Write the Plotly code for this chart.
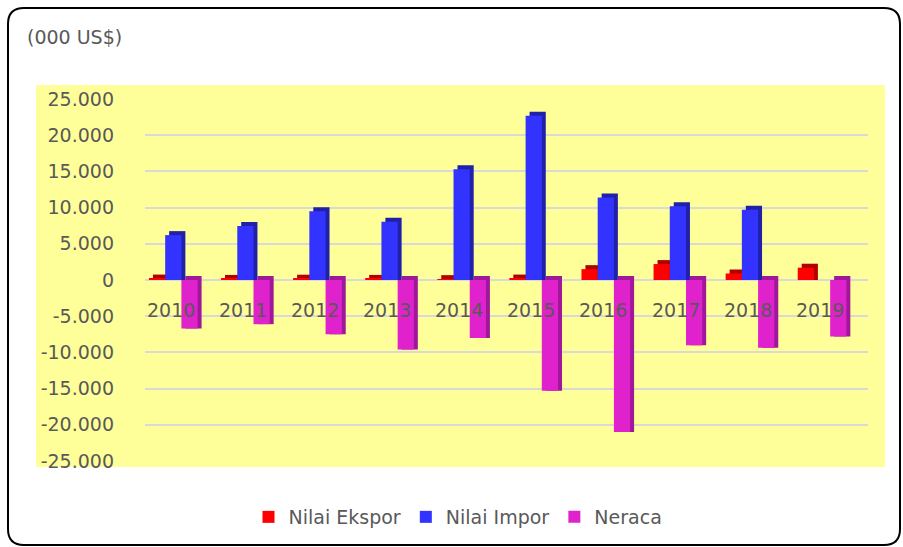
import plotly.graph_objects as go

# ---------------- data ----------------
years = ["2010", "2011", "2012", "2013", "2014", "2015", "2016", "2017", "2018", "2019"]
ekspor = [200, 150, 180, 150, 120, 200, 1500, 2200, 900, 1700]
impor = [6200, 7450, 9500, 8050, 15300, 22700, 11400, 10200, 9700, 0]
neraca = [-6700, -6100, -7500, -9600, -8000, -15300, -21000, -9000, -9350, -7800]
series_names = ["Nilai Ekspor", "Nilai Impor", "Neraca"]
y_tick_vals = [25000, 20000, 15000, 10000, 5000, 0, -5000, -10000, -15000, -20000, -25000]
y_tick_text = ["25.000", "20.000", "15.000", "10.000", "5.000", "0",
               "-5.000", "-10.000", "-15.000", "-20.000", "-25.000"]
unit_label = "(000 US$)"

# ---------------- style ----------------
W, H = 903, 547
L, R, T, B = 145, 868, 99, 461          # plot area in pixels
front_cols = ["#FF0000", "#3333FF", "#E022CC"]
side_cols = ["#B00000", "#2020A8", "#A0189A"]
FONT = "DejaVu Sans"
TXT = "#595959"
bar_w = 0.225
offsets = [-0.305, -0.08, 0.145]
depth_x = 0.055      # category units (~4px)
depth_y = 550        # value units (~4px)

def px2x(px):
    return (px - L) / (R - L)

def py2y(py):
    return (B - py) / (B - T)

x_idx = list(range(len(years)))
fig = go.Figure()

all_series = [ekspor, impor, neraca]
# side / top faces (drawn first, behind)
for vals, off, c in zip(all_series, offsets, side_cols):
    bases = [min(v, 0) for v in vals]
    heights = [abs(v) + depth_y if v != 0 else 0 for v in vals]
    fig.add_trace(go.Bar(x=x_idx, y=heights, base=bases, width=bar_w,
                         offset=off + depth_x, marker=dict(color=c, line=dict(width=0)),
                         showlegend=False, hoverinfo="skip"))
# front faces
for name, vals, off, c in zip(series_names, all_series, offsets, front_cols):
    fig.add_trace(go.Bar(x=x_idx, y=vals, width=bar_w, offset=off, name=name,
                         marker=dict(color=c, line=dict(width=0))))

# category labels (drawn inside the plot, like the original)
for i, yr in enumerate(years):
    fig.add_annotation(x=i, y=-4150, xref="x", yref="y", text=yr, showarrow=False,
                       xanchor="center", yanchor="middle",
                       font=dict(family=FONT, size=19, color=TXT))

# unit label
fig.add_annotation(x=px2x(25), y=py2y(37), xref="paper", yref="paper", text=unit_label,
                   showarrow=False, xanchor="left", yanchor="middle",
                   font=dict(family=FONT, size=19, color=TXT))

# yellow chart background
fig.add_shape(type="rect", xref="paper", yref="paper", layer="below",
              x0=px2x(36), x1=px2x(885), y0=py2y(467), y1=py2y(85),
              fillcolor="#FFFF99", line=dict(width=0))

# rounded outer frame
x0, x1, y0, y1, r = 8, 900, 8, 545, 16
def P(px, py):
    return f"{px2x(px):.5f},{py2y(py):.5f}"
path = (f"M{P(x0 + r, y0)} L{P(x1 - r, y0)} Q{P(x1, y0)} {P(x1, y0 + r)} "
        f"L{P(x1, y1 - r)} Q{P(x1, y1)} {P(x1 - r, y1)} "
        f"L{P(x0 + r, y1)} Q{P(x0, y1)} {P(x0, y1 - r)} "
        f"L{P(x0, y0 + r)} Q{P(x0, y0)} {P(x0 + r, y0)} Z")
fig.add_shape(type="path", xref="paper", yref="paper", path=path,
              line=dict(color="black", width=2), layer="above")

fig.update_layout(
    width=W, height=H,
    margin=dict(l=L, r=W - R, t=T, b=H - B, pad=0, autoexpand=False),
    paper_bgcolor="white", plot_bgcolor="rgba(0,0,0,0)",
    barmode="overlay",
    font=dict(family=FONT, size=19, color=TXT),
    showlegend=True,
    legend=dict(orientation="h", x=px2x(458), xanchor="center",
                y=py2y(517), yanchor="middle", font=dict(family=FONT, size=19, color=TXT),
                bgcolor="rgba(0,0,0,0)", itemwidth=30, traceorder="normal"),
    xaxis=dict(range=[-0.36, 9.67], showticklabels=False, showgrid=False,
               zeroline=False, showline=False, ticks=""),
    yaxis=dict(range=[-25000, 25000], tickvals=y_tick_vals, ticktext=y_tick_text,
               showgrid=True, gridcolor="#D9D9D9", gridwidth=2, zeroline=False,
               showline=False, ticks="", ticklabelstandoff=30,
               tickfont=dict(family=FONT, size=19, color=TXT)),
)

fig.write_html("out.html")
